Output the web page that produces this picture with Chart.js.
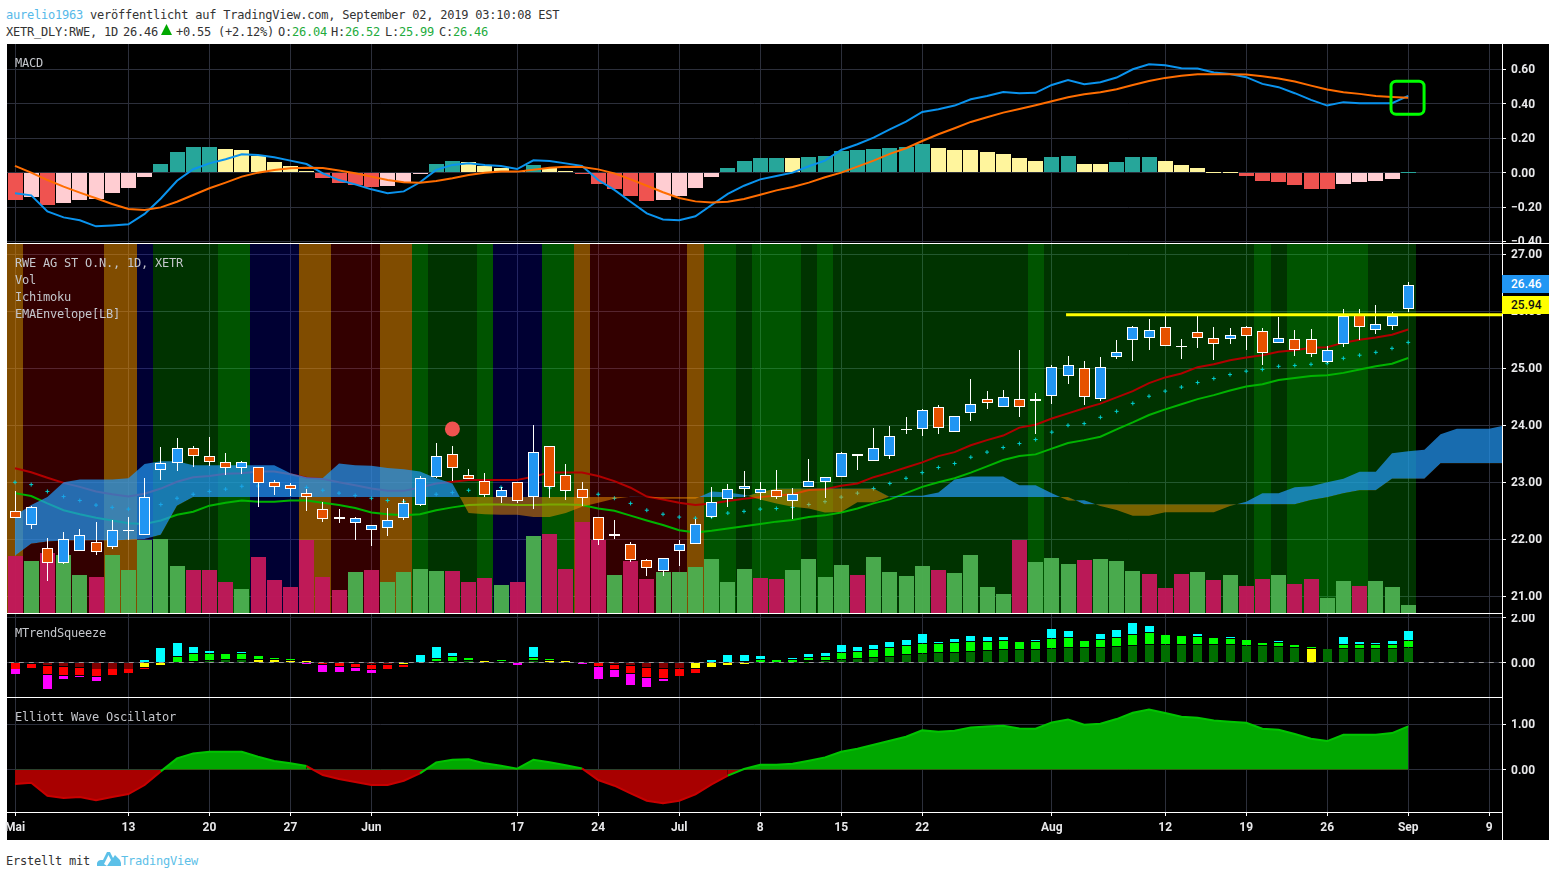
<!DOCTYPE html>
<html lang="de"><head><meta charset="utf-8"><title>RWE</title>
<script src="https://cdn.jsdelivr.net/npm/chart.js@4"></script>
<style>
html,body{margin:0;padding:0;background:#fff;width:1556px;height:877px;overflow:hidden}
#board{position:absolute;left:7px;top:44px;width:1542px;height:796px;background:#000}
canvas{position:absolute;left:0}
.t{position:absolute;white-space:pre;font:12px/14px "DejaVu Sans Mono",monospace;letter-spacing:-.22px;color:#333;z-index:5}
.p{color:#c4c6cb}.g{color:#22ab3c}.b{color:#56b9e9}
.sep{position:absolute;background:#fff;z-index:4}
.tag{position:absolute;left:1502px;width:47px;height:18px;font:500 12px/18px Roboto,sans-serif;padding-left:9px;box-sizing:border-box;z-index:5}
</style></head><body>
<div id="board"></div>
<canvas id="cMacd" width="1556" height="199" style="top:44px;width:1556px;height:199px"></canvas>
<canvas id="cPrice" width="1556" height="369" style="top:244px;width:1556px;height:369px"></canvas>
<canvas id="cTrend" width="1556" height="83" style="top:614px;width:1556px;height:83px"></canvas>
<canvas id="cEwo" width="1556" height="142" style="top:698px;width:1556px;height:142px"></canvas>

<div class="sep" style="left:7px;top:243px;width:1542px;height:1px"></div>
<div class="sep" style="left:7px;top:613px;width:1495px;height:1px"></div>
<div class="sep" style="left:7px;top:697px;width:1495px;height:1px"></div>
<div class="sep" style="left:7px;top:812px;width:1495px;height:1px"></div>
<div class="sep" style="left:1502px;top:44px;width:1px;height:796px"></div>

<div class="t" style="left:6px;top:8px"><span class="b">aurelio1963</span> veröffentlicht auf TradingView.com, September 02, 2019 03:10:08 EST</div>
<div class="t" style="left:6px;top:25px">XETR_DLY:RWE, 1D</div>
<div class="t" style="left:123px;top:25px">26.46</div>
<svg style="position:absolute;left:161px;top:24px;z-index:5" width="11" height="11" viewBox="0 0 11 11"><path d="M5.5 0 L11 11 L0 11 Z" fill="#00a800"/></svg>
<div class="t" style="left:176px;top:25px">+0.55 (+2.12%)</div>
<div class="t" style="left:278px;top:25px">O:<span class="g">26.04</span></div>
<div class="t" style="left:331px;top:25px">H:<span class="g">26.52</span></div>
<div class="t" style="left:385px;top:25px">L:<span class="g">25.99</span></div>
<div class="t" style="left:439px;top:25px">C:<span class="g">26.46</span></div>

<div class="t p" style="left:15px;top:56px">MACD</div>
<div class="t p" style="left:15px;top:256px">RWE AG ST O.N., 1D, XETR</div>
<div class="t p" style="left:15px;top:273px">Vol</div>
<div class="t p" style="left:15px;top:290px">Ichimoku</div>
<div class="t p" style="left:15px;top:307px">EMAEnvelope[LB]</div>
<div class="t p" style="left:15px;top:626px">MTrendSqueeze</div>
<div class="t p" style="left:15px;top:710px">Elliott Wave Oscillator</div>

<div class="tag" style="top:275px;background:#2196f3;color:#fff">26.46</div>
<div class="tag" style="top:296px;background:#ffff00;color:#111">25.94</div>

<div class="t" style="left:6px;top:854px">Erstellt mit</div>
<svg style="position:absolute;left:97px;top:851px;z-index:5" width="24" height="16" viewBox="0 0 24 16"><path d="M0 15 L0 12 Q1 9 4 9 L6 9 L10 1 L13 1 L16 7 L18 4 L21 7 Q24 9 24 12 L24 15 Z M10 15 L14 9 L11.5 4 L7 13 Z" fill="#5cc0e8" fill-rule="evenodd"/></svg>
<div class="t b" style="left:121px;top:854px;color:#5cc0e8">TradingView</div>

<script>
// ---- time axis (bar index → label)
const tickIndex  = [0,7,12,17,22,31,36,41,46,51,56,64,71,76,81,86,91];
const tickLabels = ['Mai','13','20','27','Jun','17','24','Jul','8','15','22','Aug','12','19','26','Sep','9'];

// ---- price candles
const opens  = [22.49,22.25,21.84,21.59,21.79,21.96,21.86,22.16,22.07,23.21,23.33,23.61,23.46,23.35,23.25,23.26,23.00,22.96,22.82,22.54,22.39,22.28,22.16,22.19,22.38,22.61,23.10,23.49,23.12,23.02,22.75,23.00,22.75,23.63,23.12,22.89,22.39,22.10,21.91,21.64,21.45,21.80,21.91,22.40,22.70,22.89,22.82,22.86,22.68,22.91,23.00,23.10,23.49,23.37,23.47,23.92,23.93,24.32,23.88,24.21,24.46,24.32,24.46,24.42,24.51,24.86,25.00,24.46,25.19,25.50,25.54,25.72,25.39,25.63,25.53,25.51,25.72,25.65,25.44,25.51,25.51,25.11,25.42,25.94,25.67,25.75,26.04];
const highs  = [22.85,22.58,22.03,22.13,22.18,22.30,22.34,22.39,23.08,23.62,23.77,23.64,23.80,23.51,23.37,23.26,23.04,22.98,22.88,22.66,22.54,22.39,22.25,22.55,22.71,23.11,23.69,23.64,23.23,23.16,22.91,23.00,24.01,23.63,23.32,23.01,22.40,22.34,21.95,21.65,21.68,21.99,22.35,22.91,22.97,23.20,23.01,23.22,22.90,23.41,23.10,23.53,23.49,23.96,23.99,24.15,24.29,24.36,24.16,24.81,24.60,24.62,25.32,24.57,25.06,25.22,25.13,25.20,25.50,25.74,25.87,25.95,25.51,25.95,25.72,25.70,25.74,25.70,25.90,25.67,25.69,25.40,26.04,26.04,26.11,25.99,26.52];
const lows   = [22.37,22.18,21.26,21.57,21.79,21.72,21.83,21.98,22.07,23.04,23.20,23.26,23.29,23.13,23.15,22.56,22.78,22.76,22.50,22.31,22.29,21.99,21.88,22.05,22.34,22.58,23.08,23.02,23.06,22.74,22.64,22.64,22.53,22.73,22.69,22.58,21.90,22.00,21.60,21.36,21.36,21.53,21.91,22.37,22.57,22.74,22.69,22.71,22.36,22.91,22.72,23.10,23.22,23.37,23.41,23.85,23.81,23.85,23.88,24.08,24.29,24.32,24.15,23.85,24.37,24.72,24.36,24.43,25.16,25.13,25.33,25.40,25.17,25.35,25.15,25.43,25.33,25.06,25.44,25.22,25.19,25.09,25.37,25.49,25.61,25.68,25.99];
const closes = [22.37,22.57,21.58,22.00,22.07,21.78,22.16,22.17,22.74,23.33,23.61,23.47,23.35,23.25,23.35,22.98,22.91,22.88,22.75,22.35,22.35,22.37,22.25,22.33,22.63,23.07,23.47,23.25,23.06,22.77,22.86,22.68,23.54,22.91,22.84,22.73,21.99,22.06,21.64,21.49,21.68,21.91,22.26,22.65,22.88,22.93,22.88,22.75,22.80,23.02,23.10,23.51,23.46,23.60,23.81,23.94,24.26,23.96,24.16,24.37,24.39,24.49,24.32,24.47,25.03,25.05,24.49,25.02,25.28,25.72,25.68,25.40,25.40,25.54,25.42,25.58,25.56,25.26,25.54,25.32,25.25,25.33,25.91,25.72,25.77,25.91,26.46];

// ---- volume (millions) and its colour kinds
const volumes = [1.91,1.74,2.01,1.94,1.28,1.21,1.94,1.44,2.44,2.48,1.58,1.44,1.44,1.04,.81,1.88,1.11,.88,2.44,1.21,.78,1.38,1.44,1.04,1.38,1.48,1.41,1.41,1.04,1.18,.94,1.04,2.58,2.64,1.48,3.04,2.44,1.28,1.74,1.14,1.38,1.38,1.54,1.81,1.04,1.48,1.18,1.14,1.44,1.81,1.21,1.61,1.28,1.88,1.38,1.24,1.58,1.44,1.34,1.94,.88,.64,2.44,1.71,1.84,1.64,1.78,1.81,1.74,1.41,1.3,.83,1.3,1.37,1.1,1.27,.9,1.13,1.27,.97,1.13,.5,1.07,.9,1.07,.87,.27];
const volumeKinds = ['p','g','p','g','g','p','g','g','g','g','g','p','p','p','g','p','p','p','p','p','p','g','p','g','g','g','g','p','p','p','g','p','g','p','p','p','p','g','p','p','g','g','g','g','g','g','p','p','g','g','g','g','p','g','g','g','g','p','g','g','g','g','p','g','g','g','p','g','g','g','p','p','p','g','p','g','p','p','g','p','p','g','g','p','g','g','g'];

// ---- EMA envelope
const emaUpper = [23.245,23.175,23.08,22.99,22.92,22.84,22.79,22.75,22.80,22.89,23.01,23.09,23.11,23.15,23.16,23.19,23.19,23.14,23.08,23.06,23.00,22.95,22.89,22.85,22.85,22.91,22.98,23.01,23.04,23.04,23.04,23.04,23.10,23.17,23.17,23.17,23.11,23.02,22.905,22.75,22.70,22.64,22.60,22.63,22.67,22.71,22.74,22.77,22.79,22.865,22.88,22.94,22.98,23.09,23.17,23.26,23.35,23.46,23.53,23.65,23.74,23.82,23.96,24.01,24.12,24.21,24.30,24.38,24.49,24.60,24.74,24.84,24.91,25.02,25.07,25.14,25.19,25.23,25.29,25.315,25.36,25.37,25.45,25.50,25.54,25.59,25.68];
const emaLower = [22.81,22.76,22.63,22.51,22.44,22.38,22.33,22.28,22.27,22.33,22.43,22.485,22.59,22.64,22.68,22.66,22.66,22.68,22.68,22.64,22.60,22.55,22.47,22.44,22.42,22.44,22.51,22.56,22.60,22.61,22.61,22.60,22.60,22.61,22.61,22.60,22.54,22.50,22.415,22.33,22.25,22.16,22.12,22.15,22.19,22.23,22.27,22.31,22.34,22.39,22.42,22.47,22.54,22.63,22.70,22.81,22.92,23.00,23.07,23.17,23.28,23.39,23.46,23.49,23.59,23.69,23.74,23.80,23.93,24.05,24.18,24.28,24.37,24.46,24.53,24.61,24.68,24.72,24.795,24.83,24.865,24.88,24.92,24.98,25.035,25.08,25.18];
const emaMid   = [23.00,22.96,22.84,22.75,22.68,22.60,22.56,22.53,22.54,22.61,22.72,22.79,22.84,22.88,22.93,22.935,22.935,22.935,22.91,22.86,22.81,22.77,22.72,22.68,22.66,22.71,22.79,22.82,22.86,22.89,22.91,22.92,22.91,22.90,22.87,22.82,22.79,22.72,22.63,22.51,22.44,22.39,22.37,22.39,22.46,22.49,22.53,22.54,22.56,22.61,22.66,22.74,22.81,22.89,22.98,23.07,23.17,23.26,23.33,23.44,23.53,23.61,23.68,23.75,23.88,24.00,24.03,24.14,24.245,24.385,24.51,24.60,24.67,24.75,24.82,24.89,24.95,24.98,25.035,25.05,25.07,25.09,25.175,25.23,25.28,25.35,25.455];

// ---- Ichimoku cloud spans (run 5 bars past the last candle)
const spanA = [22.415,22.60,22.74,23.00,23.05,23.05,23.05,23.07,23.32,23.37,23.37,23.30,23.30,23.30,23.30,23.30,23.30,23.16,23.09,23.075,23.33,23.30,23.29,23.25,23.23,23.19,23.07,22.98,22.46,22.44,22.43,22.43,22.39,22.39,22.46,22.57,22.64,22.71,22.745,22.74,22.71,22.71,22.71,22.84,22.82,22.78,22.70,22.63,22.57,22.54,22.47,22.48,22.65,22.65,22.75,22.765,22.765,22.82,23.05,23.10,23.10,23.10,22.95,22.95,22.81,22.68,22.684,22.584,22.514,22.415,22.415,22.473,22.473,22.473,22.473,22.584,22.66,22.806,22.806,22.912,22.93,23.0,23.064,23.187,23.187,23.508,23.543,23.573,23.842,23.941,23.941,23.941,24.0];
const spanB = [21.71,21.92,21.96,21.98,21.98,21.98,21.98,21.99,22.005,22.08,22.59,22.74,22.74,22.74,22.74,22.74,22.74,22.74,22.74,22.74,22.74,22.74,22.74,22.74,22.74,22.74,22.74,22.74,22.74,22.74,22.74,22.74,22.74,22.74,22.74,22.74,22.74,22.74,22.74,22.74,22.74,22.74,22.74,22.74,22.74,22.74,22.83,22.89,22.89,22.89,22.89,22.89,22.89,22.89,22.74,22.74,22.74,22.74,22.74,22.74,22.74,22.74,22.74,22.74,22.74,22.74,22.613,22.613,22.613,22.613,22.613,22.613,22.613,22.613,22.613,22.613,22.613,22.613,22.613,22.613,22.69,22.736,22.806,22.859,22.859,23.064,23.064,23.064,23.333,23.333,23.333,23.333,23.333];

// ---- background session bands: O orange, R red, N navy, D dark green, M mid green
const bandKinds = ['O','R','R','R','R','R','O','O','N','D','D','D','D','M','M','N','N','N','O','O','R','R','R','O','O','M','D','D','D','M','N','N','N','M','M','O','R','R','R','R','R','R','O','M','M','D','M','M','M','D','M','D','D','D','D','D','D','D','D','D','D','D','D','M','D','D','D','D','D','D','D','D','D','D','D','D','D','M','D','M','M','M','M','M','D','D','D'];

// ---- horizontal resistance line and marker
const levelPrice = 25.94;
const levelFrom  = 64.88;
const levelTo    = 91.79;
const markerIndex = 27;
const markerPrice = 23.935;

// ---- MACD
const macdLine = [-.12,-.132,-.225,-.26,-.277,-.312,-.307,-.30,-.24,-.15,-.047,.02,.054,.078,.107,.103,.089,.07,.05,-.004,-.043,-.068,-.097,-.12,-.109,-.056,.016,.045,.054,.045,.039,.021,.072,.068,.054,.039,-.043,-.10,-.169,-.237,-.272,-.277,-.254,-.188,-.124,-.076,-.039,-.019,0,.037,.07,.132,.165,.204,.252,.297,.353,.369,.39,.427,.446,.469,.462,.464,.51,.539,.514,.526,.553,.601,.63,.624,.607,.605,.582,.574,.555,.516,.497,.462,.423,.39,.41,.404,.404,.404,.446];
const signalLine = [.039,0,-.043,-.081,-.116,-.149,-.182,-.211,-.217,-.202,-.169,-.13,-.091,-.058,-.023,0,.016,.025,.029,.027,.012,-.004,-.023,-.043,-.056,-.058,-.049,-.033,-.014,0,.006,.006,.017,.029,.035,.033,.019,-.004,-.039,-.076,-.114,-.147,-.167,-.173,-.169,-.153,-.128,-.103,-.083,-.058,-.027,0,.035,.07,.109,.142,.184,.223,.258,.295,.322,.349,.37,.392,.415,.438,.456,.468,.485,.51,.533,.551,.563,.572,.572,.572,.57,.56,.547,.53,.506,.483,.468,.458,.446,.44,.436];
const macdHist = [-.159,-.14,-.188,-.175,-.159,-.153,-.116,-.087,-.023,.05,.12,.149,.149,.138,.132,.095,.062,.039,.012,-.029,-.058,-.072,-.083,-.076,-.054,-.008,.05,.068,.06,.039,.027,.008,.045,.029,.01,-.006,-.066,-.095,-.136,-.165,-.159,-.136,-.089,-.025,.027,.068,.085,.085,.085,.091,.097,.126,.132,.138,.144,.149,.167,.144,.132,.132,.12,.109,.085,.068,.091,.097,.05,.05,.062,.091,.091,.068,.045,.027,.006,.001,-.019,-.049,-.054,-.072,-.095,-.095,-.066,-.054,-.049,-.037,.003];
const histKinds = ['r','p','r','p','p','p','p','p','p','t','t','t','t','y','y','y','y','y','y','r','r','r','r','p','p','p','t','t','y','y','y','y','t','y','y','r','r','r','r','r','p','p','p','p','t','t','t','t','y','t','t','t','t','t','t','t','t','y','y','y','y','y','y','y','t','t','y','y','t','t','t','y','y','y','y','y','r','r','r','r','r','r','p','p','p','p','t'];
const highlightBox = {fromIndex:84.94,toIndex:86.98,top:.532,bottom:.34};

// ---- MTrendSqueeze: [bar index, low, high]
const trendCyan = [[8,.01,.10],[9,.01,.64],[10,.28,.86],[11,.41,.68],[12,.41,.50],[14,.41,.46],[25,.01,.33],[26,.19,.68],[27,.28,.41],[32,.24,.68],[43,.01,.10],[44,.01,.33],[45,.06,.33],[46,.15,.28],[48,.15,.19],[49,.24,.37],[50,.28,.43],[51,.46,.77],[52,.50,.68],[53,.59,.77],[54,.68,.90],[55,.77,.99],[56,.86,1.26],[57,.86,.90],[58,.90,1.04],[59,.95,1.17],[60,.95,1.13],[61,.99,1.13],[63,.95,.99],[64,1.08,1.48],[65,1.13,1.39],[67,1.04,1.26],[68,1.13,1.44],[69,1.26,1.75],[70,1.35,1.61],[73,1.17,1.26],[75,1.08,1.13],[78,.90,.95],[82,.81,1.13],[83,.81,.90],[84,.81,.86],[85,.81,.95],[86,.99,1.39]];
const trendLime = [[10,.01,.24],[11,.06,.37],[12,.09,.37],[13,.15,.37],[14,.15,.37],[15,.15,.28],[16,.15,.19],[17,.10,.15],[26,.06,.15],[27,.06,.24],[28,.10,.19],[30,.06,.10],[32,.10,.19],[33,.10,.15],[46,.01,.10],[47,.01,.10],[48,.01,.10],[49,.09,.19],[50,.10,.24],[51,.15,.41],[52,.19,.46],[53,.24,.55],[54,.28,.64],[55,.37,.73],[56,.41,.81],[57,.46,.81],[58,.46,.86],[59,.50,.90],[60,.55,.90],[61,.59,.95],[62,.59,.90],[63,.59,.90],[64,.64,1.04],[65,.68,1.08],[66,.68,.95],[67,.68,.99],[68,.73,1.08],[69,.77,1.21],[70,.81,1.30],[71,.81,1.21],[72,.81,1.17],[73,.81,1.13],[74,.81,1.08],[75,.81,1.04],[76,.77,.99],[77,.77,.86],[78,.73,.86],[79,.68,.77],[80,.64,.68],[82,.64,.77],[83,.64,.77],[84,.64,.77],[85,.64,.77],[86,.68,.95]];
const trendDark = [[12,.01,.06],[13,.01,.10],[14,.01,.10],[28,.01,.06],[32,.01,.06],[49,0,.04],[50,0,.06],[51,0,.10],[52,0,.15],[53,0,.19],[54,0,.24],[55,0,.33],[56,0,.37],[57,0,.41],[58,0,.41],[59,0,.46],[60,0,.50],[61,0,.55],[62,0,.55],[63,0,.55],[64,0,.59],[65,0,.64],[66,0,.64],[67,0,.64],[68,0,.68],[69,0,.73],[70,0,.77],[71,0,.77],[72,0,.77],[73,0,.77],[74,0,.77],[75,0,.77],[76,0,.73],[77,0,.73],[78,0,.68],[79,0,.64],[81,0,.59],[82,0,.59],[83,0,.59],[84,0,.59],[85,0,.59],[86,0,.64]];
const trendYellow = [[8,-.21,-.03],[9,-.12,-.03],[15,.01,.10],[16,.01,.10],[17,.01,.06],[18,.01,.06],[24,-.07,-.03],[29,.01,.06],[33,.01,.06],[34,.01,.06],[42,-.25,-.03],[43,-.21,-.03],[44,-.12,-.03],[45,-.07,-.03],[80,0,.59]];
const trendRed = [[0,-.27,-.03],[1,-.25,-.07],[2,-.53,-.16],[3,-.56,-.21],[4,-.56,-.25],[5,-.61,-.30],[6,-.56,-.30],[7,-.47,-.30],[8,-.30,-.25],[19,-.07,-.03],[20,-.16,-.03],[21,-.21,-.07],[22,-.30,-.12],[23,-.30,-.12],[24,-.21,-.12],[36,-.16,-.03],[37,-.30,-.12],[38,-.47,-.16],[39,-.65,-.25],[40,-.70,-.30],[41,-.61,-.30],[42,-.47,-.30]];
const trendDarkRed = [[2,-.12,-.03],[3,-.16,-.03],[4,-.21,-.03],[5,-.27,-.03],[6,-.27,-.03],[7,-.27,-.03],[22,-.07,-.03],[23,-.07,-.03],[37,-.07,-.03],[38,-.12,-.03],[39,-.21,-.03],[40,-.25,-.03],[41,-.25,-.03]];
const trendMagenta = [[0,-.52,-.30],[2,-1.19,-.56],[3,-.74,-.61],[4,-.65,-.61],[5,-.83,-.65],[18,-.07,-.03],[19,-.43,-.12],[20,-.43,-.21],[21,-.39,-.25],[22,-.47,-.34],[31,-.12,-.03],[35,-.07,-.03],[36,-.74,-.21],[37,-.65,-.34],[38,-1.01,-.52],[39,-1.10,-.70],[40,-.83,-.74]];

// ---- Elliott Wave Oscillator
const ewoValues = [-.316,-.287,-.574,-.625,-.603,-.676,-.603,-.537,-.338,-.037,.25,.36,.397,.397,.397,.287,.191,.14,.081,-.118,-.206,-.272,-.338,-.338,-.243,-.081,.162,.221,.228,.14,.088,.022,.221,.162,.096,.029,-.228,-.353,-.522,-.684,-.743,-.684,-.544,-.324,-.132,.015,.11,.11,.132,.199,.272,.397,.463,.551,.64,.728,.868,.838,.86,.934,.956,.971,.912,.904,1.044,1.11,.993,1.015,1.118,1.257,1.331,1.25,1.169,1.147,1.088,1.059,1.037,.904,.882,.787,.684,.632,.772,.772,.772,.809,.956];

// ---- axis ranges and ticks
const xRange = {min:-.494,max:91.79};
const macdAxis  = {min:-.409,max:.748,ticks:[.6,.4,.2,0,-.2,-.4]};
const priceAxis = {min:20.707,max:27.181,ticks:[27,26,25,24,23,22,21]};
const volumeAxis = {min:0,max:12.3};
const trendAxis = {min:-1.533,max:2.1556,ticks:[2,0]};
const ewoAxis   = {min:-.934,max:1.583,ticks:[1,0]};

// ---- colours
const bandColors = {O:'rgba(255,152,0,.5)',R:'rgba(255,0,0,.2)',N:'rgba(0,0,255,.2)',D:'rgba(0,255,0,.2)',M:'rgba(0,255,0,.33)'};
const volColors  = {g:'rgba(76,175,80,.96)',p:'rgba(194,24,91,.96)'};
const histColors = {t:'#26a69a',y:'#fff59d',r:'#ef5350',p:'#ffcdd2'};
const GRID='#2c2f3b', AXIS_TEXT='#e8e8ea';

const xy = (arr) => arr.map((v,i)=>({x:i,y:v}));
const ranges = (arr) => arr.map(r=>({x:r[0],y:[r[1],r[2]]}));

// snap every bar to whole pixels so adjoining bands and thin bars stay crisp
const snapBars = {id:'snapBars',
  beforeDraw(chart){ chart.scales.y.getLabelItems().forEach(it=>{it.textOffset+=1;}); },
  beforeDatasetDraw(chart,args){
    const meta=chart.getDatasetMeta(args.index);
    if(meta.type!=='bar')return;
    meta.data.forEach(el=>{
      const w=el.width,l=Math.round(el.x-w/2),r=Math.max(l+1,Math.round(el.x+w/2));
      el.x=(l+r)/2;el.width=r-l;
      let y=Math.round(el.y),b=Math.round(el.base);
      if(y===b){ if(el.y<el.base||el.y===el.base) b=y+1; else y=b+1; }
      el.y=y;el.base=b;
    });
  }
};
const fmt = v => v.toFixed(2).replace('-','\u2212');

function build(id,datasets,opt){
  const scales={
    x:{type:'linear',position:'bottom',min:xRange.min,max:xRange.max,offset:false,
      grid:{color:GRID,offset:false,tickColor:'#fff',tickLength:opt.showX?4:0,drawTicks:!!opt.showX},
      border:{display:false},
      afterBuildTicks:s=>{s.ticks=tickIndex.map(v=>({value:v}));},
      ticks:{display:!!opt.showX,autoSkip:false,maxRotation:0,minRotation:0,padding:5,color:AXIS_TEXT,
        font:{family:'Roboto',size:12,weight:'bold'},
        callback:v=>tickLabels[tickIndex.indexOf(v)]},
      afterFit:s=>{s.height=opt.showX?28:0;s.paddingLeft=0;s.paddingRight=0;s.paddingTop=0;s.paddingBottom=0;}},
    y:{position:'right',min:opt.axis.min,max:opt.axis.max,
      grid:{color:GRID,tickColor:'#fff',tickLength:4},
      border:{display:false},
      afterBuildTicks:s=>{s.ticks=opt.axis.ticks.map(v=>({value:v}));},
      ticks:{autoSkip:false,padding:5,color:AXIS_TEXT,font:{family:'Roboto',size:12,weight:'bold'},callback:fmt},
      afterFit:s=>{s.width=47;s.paddingTop=0;s.paddingBottom=0;s.paddingLeft=0;s.paddingRight=0;}}
  };
  Object.assign(scales,opt.extraScales||{});
  return new Chart(document.getElementById(id),{
    type:'line',data:{datasets},
    options:{responsive:false,animation:false,devicePixelRatio:1,parsing:{xAxisKey:'x',yAxisKey:'y'},
      layout:{autoPadding:false,padding:{left:7,right:7,top:0,bottom:0}},
      events:[],plugins:{legend:{display:false},tooltip:{enabled:false}},
      elements:{point:{radius:0},line:{tension:0}},scales},
    plugins:[snapBars].concat(opt.plugins||[])
  });
}
const bar = (data,color,thick,extra)=>Object.assign({type:'bar',data,backgroundColor:color,barThickness:thick,grouped:false,borderWidth:0,inflateAmount:0},extra||{});
const line = (data,color,width,extra)=>Object.assign({type:'line',data,borderColor:color,borderWidth:width,pointRadius:0,fill:false},extra||{});

// MACD pane
const highlight = {id:'highlight',afterDatasetsDraw(c){
  const x=c.scales.x,y=c.scales.y,h=highlightBox,ctx=c.ctx;
  const l=x.getPixelForValue(h.fromIndex),r=x.getPixelForValue(h.toIndex),t=y.getPixelForValue(h.top),b=y.getPixelForValue(h.bottom);
  ctx.save();ctx.strokeStyle='#00ff00';ctx.lineWidth=3;ctx.beginPath();ctx.roundRect(l,t,r-l,b-t,5);ctx.stroke();ctx.restore();
}};
build('cMacd',[
  line(xy(signalLine),'#ff6d00',2),
  line(xy(macdLine),'#0a93ee',2),
  bar(xy(macdHist),histKinds.map(k=>histColors[k]),15)
],{axis:macdAxis,plugins:[highlight]});

// price pane (first listed = drawn on top)
build('cPrice',[
  line([{x:markerIndex,y:markerPrice}],'#ef5350',0,{showLine:false,pointRadius:7.5,pointBackgroundColor:'#ef5350',pointBorderWidth:0}),
  line([{x:levelFrom,y:levelPrice},{x:levelTo,y:levelPrice}],'#ffff00',3),
  bar(opens.map((o,i)=>({x:i,y:[o,closes[i]]})),closes.map((c,i)=>c>=opens[i]?'#2196f3':'#e65100'),11,{borderColor:'#fff',borderWidth:1,borderSkipped:false}),
  bar(lows.map((l,i)=>({x:i,y:[l,highs[i]]})),'#ffffff',1),
  line(xy(spanA),'rgba(0,0,0,0)',0,{fill:{target:'+1',above:'rgba(33,150,243,.72)',below:'rgba(255,152,0,.48)'}}),
  line(xy(spanB),'rgba(0,0,0,0)',0),
  line(xy(emaMid),'#00bfbf',0,{showLine:false,pointStyle:'cross',pointRadius:2,pointBorderColor:'#00d0d0',pointBorderWidth:1}),
  line(xy(emaLower),'#00b400',2),
  line(xy(emaUpper),'#b00000',2),
  bar(xy(volumes),volumeKinds.map(k=>volColors[k]),15,{yAxisID:'vol'}),
  bar(bandKinds.map((k,i)=>({x:i,y:[priceAxis.min,priceAxis.max]})),bandKinds.map(k=>bandColors[k]),16.2)
],{axis:priceAxis,extraScales:{vol:{display:false,position:'left',min:volumeAxis.min,max:volumeAxis.max}}});

// MTrendSqueeze pane
build('cTrend',[
  line([{x:-1,y:0},{x:93,y:0}],'#9a9a9a',1,{borderDash:[5,5]}),
  bar(ranges(trendCyan),'#00ffff',9),
  bar(ranges(trendLime),'#00ff00',9),
  bar(ranges(trendDark),'#006e00',9),
  bar(ranges(trendYellow),'#ffff00',9),
  bar(ranges(trendRed),'#ff0000',9),
  bar(ranges(trendDarkRed),'#800000',9),
  bar(ranges(trendMagenta),'#ff00ff',9)
],{axis:trendAxis});

// Elliott Wave Oscillator pane
build('cEwo',[
  line(xy(ewoValues),'#00c400',2,{
    fill:{target:{value:0},above:'#00a800',below:'#a80000'},
    segment:{borderColor:c=>c.p1.parsed.y<0?'#c80000':'#00c400'}
  })
],{axis:ewoAxis,showX:true});
</script>
</body></html>
